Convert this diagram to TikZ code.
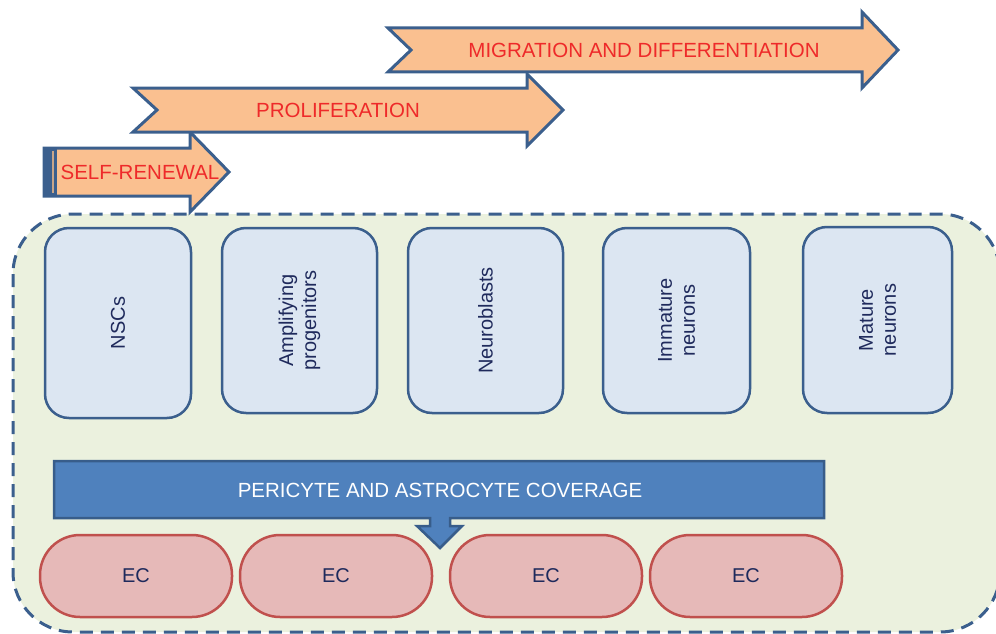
\documentclass[tikz,border=0pt]{standalone}
\usepackage{fontspec}
\setmainfont{Liberation Sans}
\usepackage{tikz}
\usetikzlibrary{positioning,calc}

\definecolor{peach}{HTML}{FAC090}
\definecolor{edgeblue}{HTML}{3B5F8D}
\definecolor{cellfill}{HTML}{DCE6F2}
\definecolor{nichegreen}{HTML}{EBF1DE}
\definecolor{bannerblue}{HTML}{4F81BD}
\definecolor{banneredge}{HTML}{385D8A}
\definecolor{ecfill}{HTML}{E6B9B8}
\definecolor{ecedge}{HTML}{C0504D}
\definecolor{stagered}{HTML}{EE2A2A}
\definecolor{cellnavy}{HTML}{1F2A5C}

\tikzset{
  stagearrow/.style={draw=edgeblue, fill=peach, line width=3pt, line join=miter},
  stagetext/.style={text=stagered, font=\fontsize{20.5}{24}\selectfont, inner sep=0pt},
  cellbox/.style={draw=edgeblue, fill=cellfill, line width=2.5pt, rounded corners=24pt,
    rotate=90, minimum height=#1, align=center, text=cellnavy,
    font=\fontsize{20}{23}\selectfont, inner sep=0pt},
  ecpill/.style={draw=ecedge, fill=ecfill, line width=2.5pt, rounded corners=40pt,
    minimum width=192pt, minimum height=82pt, text=cellnavy, outer sep=0pt,
    font=\fontsize{20}{24}\selectfont, inner sep=0pt},
}

\begin{document}
\begin{tikzpicture}[x=1pt,y=-1pt]
  \useasboundingbox (0,0) rectangle (996,634);
  \clip (0,0) rectangle (996,634);

  % niche
  \draw[draw=edgeblue, fill=nichegreen, line width=3pt, dash pattern=on 13pt off 8pt, rounded corners=60pt]
    (13,214) rectangle (1000,632);

  % cell stages
  \node[cellbox=146pt, minimum width=190pt] (nsc) at (118,323) {NSCs};
  \node[cellbox=155pt, minimum width=185pt] (amp) at (299.5,320.5) {Amplifying\\progenitors};
  \node[cellbox=155pt, minimum width=185pt] (nbl) at (485.5,320.5) {Neuroblasts};
  \node[cellbox=147pt, minimum width=185pt] (imm) at (676.5,320.5) {Immature\\neurons};
  \node[cellbox=149pt, minimum width=186pt] (mat) at (877.5,320) {Mature\\neurons};

  % coverage banner with callout
  \draw[draw=banneredge, fill=bannerblue, line width=2.5pt, line join=miter]
    (54,461) -- (824,461) -- (824,518) -- (450,518) -- (450,526) -- (462,526) -- (440,548)
    -- (417,526) -- (430,526) -- (430,518) -- (54,518) -- cycle;
  \node[text=white, font=\fontsize{20.5}{24}\selectfont] (cover) at (440,490) {PERICYTE AND ASTROCYTE COVERAGE};

  % endothelial cells
  \node[ecpill] (ec1) at (136,576) {EC};
  \node[ecpill, right=8pt of ec1] (ec2) {EC};
  \node[ecpill, right=18pt of ec2] (ec3) {EC};
  \node[ecpill, right=8pt of ec3] (ec4) {EC};

  % process arrows
  \draw[stagearrow] (44,148) -- (190,148) -- (190,132) -- (229,172) -- (190,212) -- (190,196) -- (44,196) -- cycle;
  \fill[edgeblue] (44,148) rectangle (57,196);
  \draw[peach!60!gray, line width=2pt] (53,151) -- (53,193);
  \node[stagetext] (self) at (140,172) {SELF-RENEWAL};

  \draw[stagearrow] (133,88) -- (527,88) -- (527,74) -- (563,110) -- (527,146) -- (527,132) -- (133,132) -- (157,110) -- cycle;
  \node[stagetext] (prolif) at (338,110) {PROLIFERATION};

  \draw[stagearrow] (388,28) -- (862,28) -- (862,12) -- (898,50) -- (862,88) -- (862,72) -- (388,72) -- (411,50) -- cycle;
  \node[stagetext] (migr) at (644,50) {MIGRATION AND DIFFERENTIATION};
\end{tikzpicture}
\end{document}
